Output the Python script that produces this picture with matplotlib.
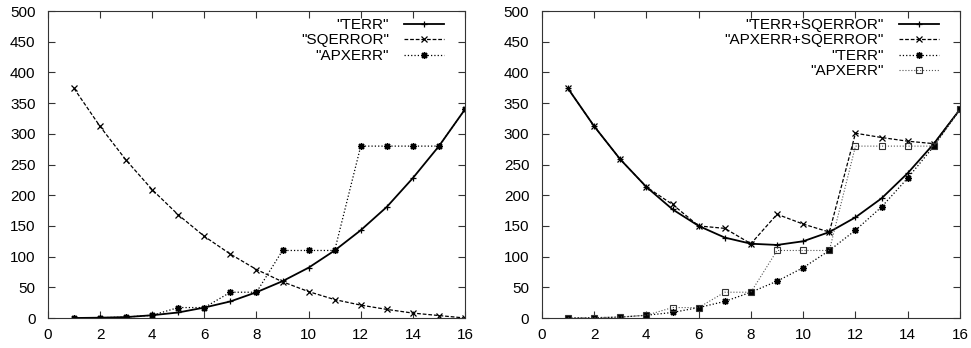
import matplotlib
matplotlib.use('Agg')
import matplotlib.pyplot as plt

plt.rcParams['font.family'] = ['Liberation Sans', 'DejaVu Sans']
plt.rcParams['font.size'] = 11

# valores
n = list(range(1, 17))
terr = [0, 0.5, 1.5, 4.5, 9, 17, 27, 42, 60, 82, 110, 143, 181, 228, 280, 340]
sqerror = [374, 312, 257, 209, 168, 133, 104, 79, 59, 43, 30, 21, 14, 8, 4, 0]
apxerr = [0, 0.5, 1.5, 4.5, 17, 17, 42, 42, 110, 110, 110, 280, 280, 280, 280, 340]
terr_sq = [374, 312.5, 258.5, 213.5, 177, 150, 131, 121, 119, 125, 140, 164, 195, 236, 284, 340]
apx_sq = [374, 312.5, 258.5, 213.5, 185, 150, 146, 121, 169, 153, 140, 301, 294, 288, 284, 340]

estrella = (8, 2, 0)

fig = plt.figure(figsize=(9.71, 3.48), dpi=100)
ax1 = fig.add_axes([0.0494, 0.0862, 0.4295, 0.882])
ax2 = fig.add_axes([0.558, 0.0862, 0.4307, 0.882])

ax1.plot(n, terr, '-', color='black', lw=1.3, marker='+', ms=5, mew=0.9, label='"TERR"')
ax1.plot(n, sqerror, '--', color='black', lw=0.9, dashes=(3, 1.5), marker='x', ms=4, mew=0.9, label='"SQERROR"')
ax1.plot(n, apxerr, ':', color='black', lw=0.9, marker=estrella, ms=5, mew=1.0, label='"APXERR"')

ax2.plot(n, terr_sq, '-', color='black', lw=1.3, marker='+', ms=5, mew=0.9, label='"TERR+SQERROR"')
ax2.plot(n, apx_sq, '--', color='black', lw=0.9, dashes=(3, 1.5), marker='x', ms=4, mew=0.9, label='"APXERR+SQERROR"')
ax2.plot(n, terr, ':', color='black', lw=0.9, marker=estrella, ms=5, mew=1.0, label='"TERR"')
ax2.plot(n, apxerr, ':', color='#555555', lw=0.8, marker='s', ms=4.5, mfc='none', mec='#333333', mew=0.8, label='"APXERR"')

for ax in (ax1, ax2):
    ax.set_xlim(0, 16)
    ax.set_ylim(0, 500)
    ax.set_xticks(range(0, 17, 2))
    ax.set_yticks(range(0, 501, 50))
    ax.tick_params(direction='in', top=True, right=True, length=5, width=0.8, labelsize=11, color='#333333')
    ax.tick_params(axis='x', pad=7)
    ax.tick_params(axis='y', pad=9)
    for s in ax.spines.values():
        s.set_linewidth(0.8)
        s.set_color('#333333')
    ax.legend(loc='upper right', bbox_to_anchor=(1 - 18 / 417, 1 - 4 / 307), frameon=False,
              markerfirst=False, handlelength=2.6, labelspacing=0.09, borderaxespad=0,
              borderpad=0.2, handletextpad=1.0, fontsize=11)

fig.savefig('out.png', dpi=100)
